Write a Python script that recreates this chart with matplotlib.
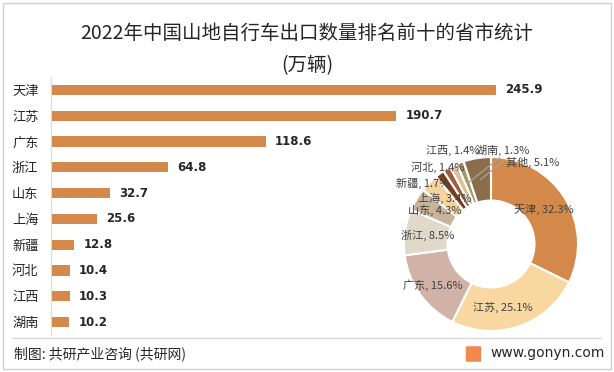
import numpy as np
import matplotlib
matplotlib.use("Agg")
import matplotlib.pyplot as plt
from matplotlib.patches import Rectangle, FancyBboxPatch
from matplotlib.lines import Line2D

plt.rcParams['font.family'] = ['Noto Sans CJK SC', 'DejaVu Sans']

# ─── 数据 ───────────────────────────────────────────
provinces = ["天津", "江苏", "广东", "浙江", "山东", "上海", "新疆", "河北", "江西", "湖南"]
volumes = [245.9, 190.7, 118.6, 64.8, 32.7, 25.6, 12.8, 10.4, 10.3, 10.2]

pie_labels = ["天津", "江苏", "广东", "浙江", "山东", "上海", "新疆", "河北", "江西", "湖南", "其他"]
pie_shares = [32.3, 25.1, 15.6, 8.5, 4.3, 3.4, 1.7, 1.4, 1.4, 1.3, 5.1]
pie_colors = ["#D4894A", "#F8D8A0", "#D0B2A6", "#E0D9CA", "#C8B49A", "#F4D39C",
              "#7A3E1A", "#A45A3C", "#D9C09A", "#A89A66", "#8B6D4A"]
# 标签位置 (半径, 角度偏移)
label_pos = [(0.72, 1), (0.74, -8), (0.82, 0), (0.74, 0), (0.75, 0), (0.75, 0),
             (1.05, 12), (1.07, 4), (1.16, -3), (1.09, -28), (1.05, -36)]
# 引导线终点相对标签中心的偏移
leader_end = {"湖南": (-0.04, -0.09), "其他": (-0.33, 0.02)}

W, H = 614, 372
fig = plt.figure(figsize=(W / 100, H / 100), dpi=100)
fig.patch.set_facecolor("white")

# 外框
fig.add_artist(Rectangle((3 / W, 3 / H), 608 / W, 366 / H, transform=fig.transFigure,
                         fill=False, edgecolor="#D0D0D0", linewidth=1))

# 标题
fig.text(307 / W, 1 - 33 / H, "2022年中国山地自行车出口数量排名前十的省市统计",
         ha="center", va="center", fontsize=14, color="#262626")
fig.text(307 / W, 1 - 66 / H, "(万辆)", ha="center", va="center", fontsize=14, color="#262626")

# ─── 条形图 ───────────────────────────────────────────
ax = fig.add_axes([51 / W, 37 / H, 525 / W, 258 / H])
y = np.arange(len(provinces))
ax.barh(y, volumes, height=0.39, color="#D4894A")
for yi, v in zip(y, volumes):
    ax.annotate(f"{v}", (v, yi), xytext=(6.5, 0), textcoords="offset points",
                ha="left", va="center", fontsize=8.5, fontweight="bold", color="#262626",
                family=["DejaVu Sans"])
ax.set_ylim(9.5, -0.5)
ax.set_xlim(0, 290)
ax.set_yticks(y)
ax.set_yticklabels(provinces, fontsize=9.5, color="#262626")
ax.tick_params(axis="y", length=0, pad=9)
ax.set_xticks([])
for s in ["top", "right", "bottom"]:
    ax.spines[s].set_visible(False)
ax.spines["left"].set_color("#D9D9D9")
ax.patch.set_alpha(0)

# ─── 环形图 ───────────────────────────────────────────
R = 87
pax = fig.add_axes([(491 - 120) / W, (372 - 244 - 120) / H, 240 / W, 240 / H])
wedges, _ = pax.pie(pie_shares, colors=pie_colors, startangle=90, counterclock=False,
                    radius=1, wedgeprops=dict(width=0.5, edgecolor="white", linewidth=1.5))
lim = 120 / R
pax.set_xlim(-lim, lim)
pax.set_ylim(-lim, lim)
pax.axis("off")

for i, (w, lab, sh) in enumerate(zip(wedges, pie_labels, pie_shares)):
    mid = (w.theta1 + w.theta2) / 2
    r, dth = label_pos[i]
    ang = np.deg2rad(mid + dth)
    lx, ly = r * np.cos(ang), r * np.sin(ang)
    if lab in leader_end:
        m = np.deg2rad(mid)
        x0, y0 = 0.75 * np.cos(m), 0.75 * np.sin(m)
        ox, oy = leader_end[lab]
        pax.plot([x0, lx + ox], [y0, ly + oy], color="#A6A6A6", linewidth=0.9)
    pax.text(lx, ly, f"{lab}, {sh}%", ha="center", va="center", fontsize=8,
             color="#404040")

# ─── 底部 ───────────────────────────────────────────
fig.add_artist(Line2D([12 / W, 601 / W], [1 - 338 / H, 1 - 338 / H], transform=fig.transFigure,
                      color="#D9D9D9", linewidth=1))
fig.text(14 / W, 1 - 354 / H, "制图: 共研产业咨询 (共研网)", ha="left", va="center",
         fontsize=10, color="#262626")
fig.add_artist(FancyBboxPatch((467 / W, 1 - 361 / H), 13 / W, 14 / H, transform=fig.transFigure,
                              boxstyle="round,pad=0.002", facecolor="#F2884B", edgecolor="none"))
fig.text(490 / W, 1 - 353 / H, "www.gonyn.com", ha="left", va="center",
         fontsize=10, color="#262626", family=["DejaVu Sans"])

fig.savefig("out.png", dpi=100)
plt.close(fig)
